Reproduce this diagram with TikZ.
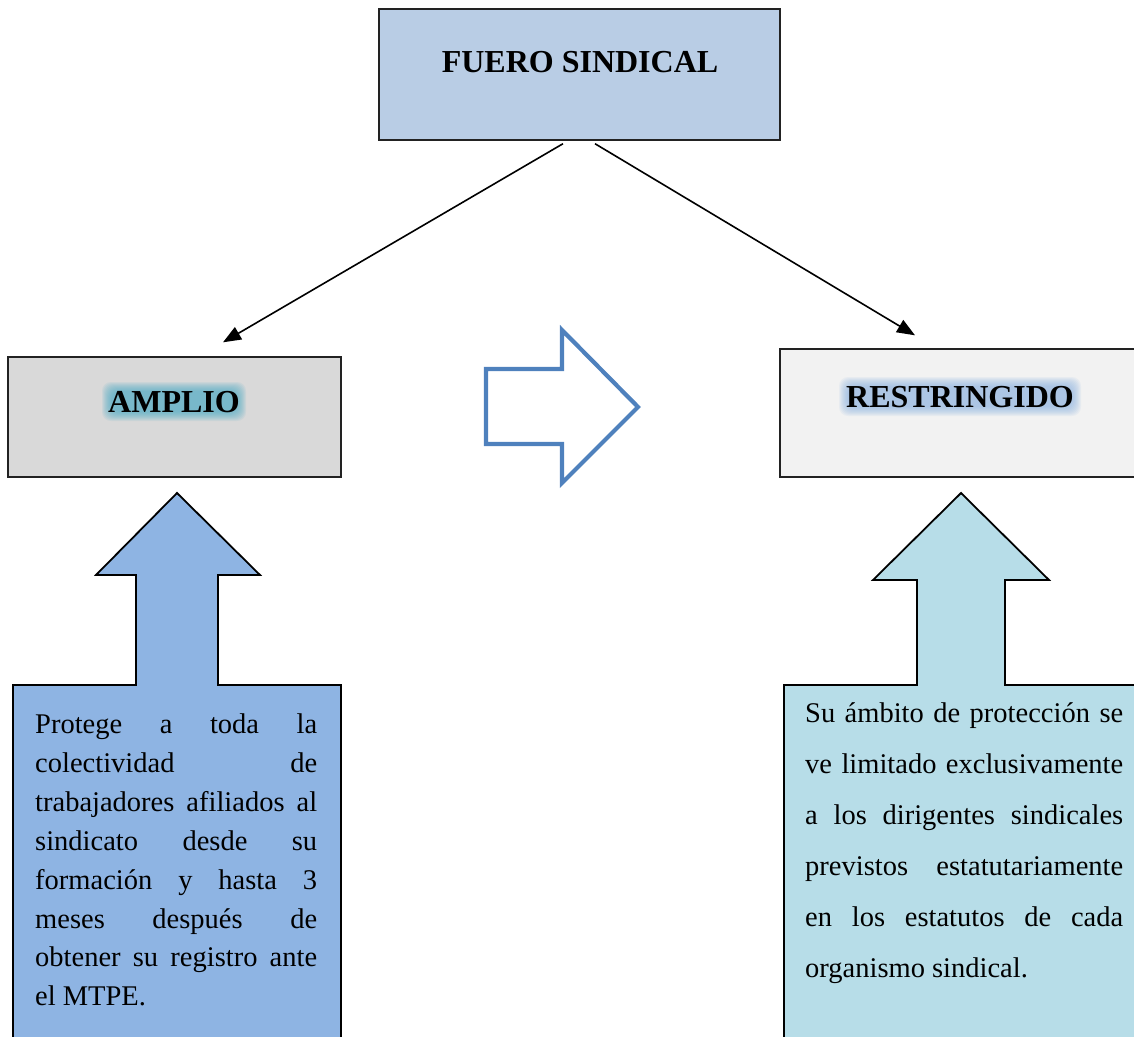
\documentclass[tikz,border=0pt]{standalone}
\usepackage{fontspec}
\setmainfont{Liberation Serif}
\usetikzlibrary{arrows.meta}
\definecolor{topfill}{HTML}{B9CDE5}
\definecolor{ampfill}{HTML}{D9D9D9}
\definecolor{resfill}{HTML}{F2F2F2}
\definecolor{leftcall}{HTML}{8EB4E3}
\definecolor{rightcall}{HTML}{B7DDE8}
\definecolor{hollow}{HTML}{4F81BD}
\definecolor{ampglow}{HTML}{4BACC6}
\definecolor{resglow}{HTML}{8DB3E2}
\definecolor{edge}{HTML}{222222}
\begin{document}
\begin{tikzpicture}[x=1pt,y=-1pt,
  box/.style={draw=edge, line width=1.4pt, rectangle, inner sep=0pt},
  head/.style={font=\bfseries\fontsize{32}{38}\selectfont, inner sep=0pt},
  para/.style={font=\fontsize{28.5}{39.7}\selectfont, inner sep=0pt, anchor=base west},
  conn/.style={draw=black, line width=1.6pt, -{Triangle[length=18pt,width=14pt]}},
  callout/.style={draw=black, line width=1.8pt, line join=miter},
  hollowarrow/.style={draw=hollow, line width=4.2pt, line join=miter}]
\useasboundingbox (0,0) rectangle (1134,1036);
\clip (0,0) rectangle (1134,1036);

% boxes
\node[box, fill=topfill, minimum width=401pt, minimum height=131pt] (fuero) at (579.5,74.5) {};
\node[box, fill=ampfill, minimum width=333pt, minimum height=120pt] (amplio) at (174.5,417) {};
\node[box, fill=resfill, minimum width=360pt, minimum height=128pt] (restr) at (960,413) {};

% soft glow behind titles
\foreach \i in {0,1,...,9}{
  \fill[ampglow, opacity=0.1, rounded corners=9pt] (111-\i,391-\i) rectangle (237+\i,412+\i);
  \fill[resglow, opacity=0.1, rounded corners=9pt] (848-\i,386-\i) rectangle (1072+\i,407+\i);
}

% titles
\node[head, anchor=base] (tfuero) at (580,72) {FUERO SINDICAL};
\node[head, anchor=base] (tamplio) at (174,412) {AMPLIO};
\node[head, anchor=base] (trestr) at (960,407) {RESTRINGIDO};

% connectors
\draw[conn] ([xshift=-16.5pt,yshift=-3pt]fuero.south) -- ([xshift=48.5pt,yshift=14pt]amplio.north);
\draw[conn] ([xshift=15.5pt,yshift=-3pt]fuero.south) -- ([xshift=-45pt,yshift=13pt]restr.north);

% hollow right arrow
\draw[hollowarrow] (486,369) -- (562,369) -- (562,330) -- (638,407) -- (562,483) -- (562,444) -- (486,444) -- cycle;

% up-arrow callouts
\draw[callout, fill=leftcall] (13,1050) -- (13,685) -- (136,685) -- (136,575) -- (96,575) -- (177,493) -- (260,575) -- (218,575) -- (218,685) -- (341,685) -- (341,1050) -- cycle;
\draw[callout, fill=rightcall] (784,1050) -- (784,685) -- (917,685) -- (917,580) -- (873,580) -- (961,493) -- (1049,580) -- (1005,580) -- (1005,685) -- (1150,685) -- (1150,1050) -- cycle;

% left text
\node[para] (l1) at (35,733.5) {\makebox[282pt][s]{Protege a toda la}};
\node[para] (l2) at (35,772.4) {\makebox[282pt][s]{colectividad de}};
\node[para] (l3) at (35,811.3) {\makebox[282pt][s]{trabajadores afiliados al}};
\node[para] (l4) at (35,850.2) {\makebox[282pt][s]{sindicato desde su}};
\node[para] (l5) at (35,889.1) {\makebox[282pt][s]{formación y hasta 3}};
\node[para] (l6) at (35,928.0) {\makebox[282pt][s]{meses después de}};
\node[para] (l7) at (35,966.9) {\makebox[282pt][s]{obtener su registro ante}};
\node[para] (l8) at (35,1005.8) {el MTPE.};

% right text
\node[para] (r1) at (805,722) {\makebox[318pt][s]{Su ámbito de protección se}};
\node[para] (r2) at (805,773) {\makebox[318pt][s]{ve limitado exclusivamente}};
\node[para] (r3) at (805,824) {\makebox[318pt][s]{a los dirigentes sindicales}};
\node[para] (r4) at (805,875) {\makebox[318pt][s]{previstos estatutariamente}};
\node[para] (r5) at (805,926) {\makebox[318pt][s]{en los estatutos de cada}};
\node[para] (r6) at (805,977) {organismo sindical.};
\end{tikzpicture}
\end{document}
